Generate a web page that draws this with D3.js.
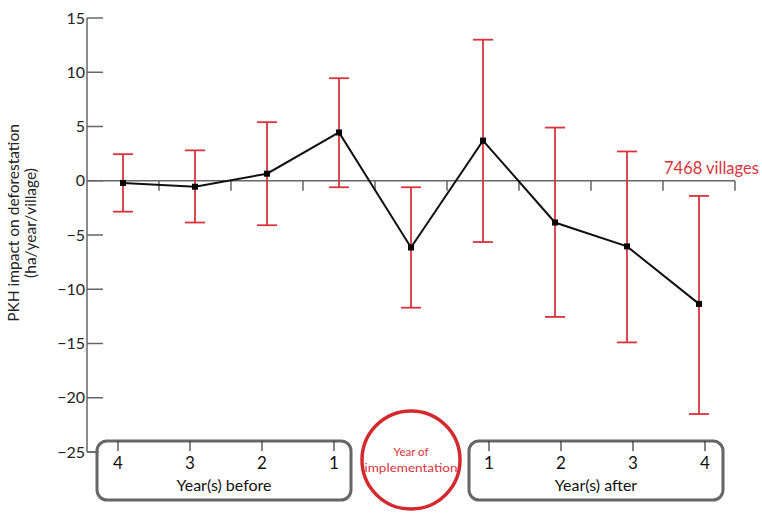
<!DOCTYPE html>
<html>
<head>
<meta charset="utf-8">
<script src="https://cdn.jsdelivr.net/npm/d3@7"></script>
<style>
  body { margin: 0; background: #fff; }
  svg { font-family: Lato, "Open Sans", sans-serif; }
</style>
</head>
<body>
<svg id="chart" width="762" height="513"></svg>
<script>
// data
const periods = ["b4", "b3", "b2", "b1", "impl", "a1", "a2", "a3", "a4"];
const estimate = [-0.2, -0.55, 0.65, 4.45, -6.15, 3.7, -3.85, -6.05, -11.35];
const upper = [2.45, 2.8, 5.4, 9.45, -0.6, 13.0, 4.9, 2.7, -1.4];
const lower = [-2.85, -3.85, -4.1, -0.6, -11.7, -5.65, -12.55, -14.9, -21.5];
const yTicks = [15, 10, 5, 0, -5, -10, -15, -20, -25];
const beforeLabels = ["4", "3", "2", "1"];
const afterLabels = ["1", "2", "3", "4"];
const sampleNote = "7468 villages";

const red = "#d9343d";
const grey = "#666";

const svg = d3.select("#chart");

const x = d3.scaleBand().domain(periods).range([87, 735]);
const y = d3.scaleLinear().domain([-25, 15]).range([452, 18]);
const cx = d => x(d) + x.bandwidth() / 2;

// y axis
const yAxis = svg.append("g").attr("transform", "translate(87,0)");
yAxis.append("line")
    .attr("x1", 0).attr("x2", 0)
    .attr("y1", y(15)).attr("y2", y(-25))
    .attr("stroke", grey).attr("stroke-width", 1.5);
yAxis.selectAll(".yt")
    .data(yTicks)
    .join("line")
    .attr("x1", 0).attr("x2", d => d == -25 ? 12 : 16)
    .attr("y1", d => y(d)).attr("y2", d => y(d))
    .attr("stroke", grey).attr("stroke-width", 1.5);
yAxis.selectAll(".yl")
    .data(yTicks)
    .join("text")
    .attr("x", -2)
    .attr("y", d => y(d))
    .attr("dy", "0.35em")
    .attr("text-anchor", "end")
    .attr("font-size", 16)
    .attr("fill", "#222")
    .text(d => d3.format("d")(d));

// y title
const yTitle = svg.append("text")
    .attr("transform", "translate(14,223) rotate(-90)")
    .attr("text-anchor", "middle")
    .attr("font-size", 15.5)
    .attr("fill", "#222");
yTitle.append("tspan").attr("x", 0).attr("dy", "0.35em").text("PKH impact on deforestation");
yTitle.append("tspan").attr("x", 0).attr("dy", "1.1em").text("(ha/year/village)");

// zero line with hanging ticks
svg.append("line")
    .attr("x1", 87).attr("x2", 735)
    .attr("y1", y(0)).attr("y2", y(0))
    .attr("stroke", grey).attr("stroke-width", 1.5);
svg.selectAll(".xt")
    .data(periods)
    .join("line")
    .attr("x1", d => x(d) + x.bandwidth()).attr("x2", d => x(d) + x.bandwidth())
    .attr("y1", y(0)).attr("y2", y(0) + 10)
    .attr("stroke", grey).attr("stroke-width", 1.5);

svg.append("text")
    .attr("x", 664).attr("y", y(0) - 7)
    .attr("font-size", 16.5)
    .attr("fill", red)
    .text(sampleNote);

// error bars
const bars = svg.append("g");
periods.forEach((p, i) => {
    const xc = cx(p);
    bars.append("line")
        .attr("x1", xc).attr("x2", xc)
        .attr("y1", y(upper[i])).attr("y2", y(lower[i]))
        .attr("stroke", red).attr("stroke-width", 1.8);
    [upper[i], lower[i]].forEach(v => {
        bars.append("line")
            .attr("x1", xc - 10).attr("x2", xc + 10)
            .attr("y1", y(v)).attr("y2", y(v))
            .attr("stroke", red).attr("stroke-width", 1.8);
    });
});

// estimate line + markers
const line = d3.line().x((d, i) => cx(periods[i])).y(d => y(d));
svg.append("path")
    .datum(estimate)
    .attr("d", line)
    .attr("fill", "none")
    .attr("stroke", "#111")
    .attr("stroke-width", 2);
svg.selectAll(".pt")
    .data(estimate)
    .join("rect")
    .attr("x", (d, i) => cx(periods[i]) - 3)
    .attr("y", d => y(d) - 3)
    .attr("width", 6).attr("height", 6)
    .attr("fill", "#000");

// bottom boxes
const boxTop = 441, boxH = 59;
function yearBox(x0, x1, labels, keys, shift, title) {
    const g = svg.append("g");
    g.append("rect")
        .attr("x", x0).attr("y", boxTop)
        .attr("width", x1 - x0).attr("height", boxH)
        .attr("rx", 10)
        .attr("fill", "none")
        .attr("stroke", grey).attr("stroke-width", 3);
    keys.forEach((k, i) => {
        const xc = cx(k) + shift;
        g.append("line")
            .attr("x1", xc).attr("x2", xc)
            .attr("y1", boxTop).attr("y2", boxTop + 10)
            .attr("stroke", "#333").attr("stroke-width", 1.2);
        g.append("text")
            .attr("x", xc).attr("y", boxTop + 22)
            .attr("dy", "0.35em")
            .attr("text-anchor", "middle")
            .attr("font-size", 17)
            .attr("fill", "#111")
            .text(labels[i]);
    });
    g.append("text")
        .attr("x", (x0 + x1) / 2).attr("y", boxTop + 44)
        .attr("dy", "0.35em")
        .attr("text-anchor", "middle")
        .attr("font-size", 16)
        .attr("fill", "#111")
        .text(title);
}
yearBox(97, 351, beforeLabels, periods.slice(0, 4), -5, "Year(s) before");
yearBox(469, 723, afterLabels, periods.slice(5), 6, "Year(s) after");

// x axis stub at the bottom of y axis joining the box
svg.append("line")
    .attr("x1", 87).attr("x2", 97)
    .attr("y1", y(-25)).attr("y2", y(-25))
    .attr("stroke", grey).attr("stroke-width", 1.5);

// implementation circle
const ic = cx("impl");
svg.append("circle")
    .attr("cx", ic).attr("cy", 460).attr("r", 49)
    .attr("fill", "none")
    .attr("stroke", "#d32a30").attr("stroke-width", 3.5);
svg.append("text")
    .attr("x", ic).attr("y", 452).attr("dy", "0.35em")
    .attr("text-anchor", "middle")
    .attr("font-size", 11.5).attr("fill", red)
    .text("Year of");
svg.append("text")
    .attr("x", ic).attr("y", 468).attr("dy", "0.35em")
    .attr("text-anchor", "middle")
    .attr("font-size", 11.5).attr("fill", red)
    .attr("textLength", 93).attr("lengthAdjust", "spacingAndGlyphs")
    .text("implementation");
</script>
</body>
</html>
